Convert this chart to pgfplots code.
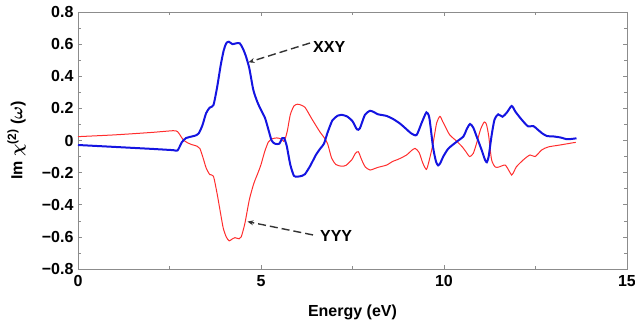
\documentclass[border=0pt]{standalone}
\usepackage{fontspec}
\setmainfont{Liberation Sans}
\usepackage{pgfplots}
\pgfplotsset{compat=1.18}
\usetikzlibrary{arrows.meta}
\definecolor{xblue}{RGB}{20,20,225}
\definecolor{yred}{RGB}{255,45,45}
\definecolor{framegray}{RGB}{140,140,140}
\begin{document}
\begin{tikzpicture}[x=1pt,y=1pt]
\path[use as bounding box] (0,0) rectangle (635,333);
\begin{axis}[
  at={(78pt,64pt)}, anchor=south west,
  width=549pt, height=257pt, scale only axis,
  xmin=0, xmax=15, ymin=-0.8, ymax=0.8,
  xtick={0,5,10,15}, xticklabels={0,5,10,15},
  minor xtick={2.5,7.5,12.5},
  ytick={-0.8,-0.6,-0.4,-0.2,0,0.2,0.4,0.6,0.8},
  yticklabels={−0.8,−0.6,−0.4,−0.2,0,0.2,0.4,0.6,0.8},
  minor ytick={-0.7,-0.5,-0.3,-0.1,0.1,0.3,0.5,0.7},
  tick align=inside,
  major tick length=4pt, minor tick length=3pt,
  axis line style={framegray, line width=0.8pt},
  every tick/.style={framegray, line width=0.6pt},
  tick label style={font=\fontsize{16}{18}\selectfont\bfseries},
  xticklabel style={yshift=-3pt},
  yticklabel style={xshift=-1pt},
  xlabel={Energy (eV)},
  ylabel={Im $\chi^{\textbf{\fontsize{12}{14}\selectfont(2)}}$ ($\omega$)},
  label style={font=\fontsize{16}{18}\selectfont\bfseries\boldmath},
  xlabel style={at={(axis description cs:0.5,-0.17)}, anchor=center},
  ylabel style={at={(axis description cs:-0.112,0.5)}, anchor=center},
  clip=false,
]
\addplot[yred, line width=1pt, smooth, tension=0.4] coordinates {
(0,0.024) (1,0.035) (2,0.05) (2.6,0.061) (2.72,0.055) (2.8,0.03) (2.88,0.003)
(3.0,-0.015) (3.1,-0.025) (3.25,-0.035) (3.33,-0.05) (3.42,-0.11) (3.5,-0.17)
(3.6,-0.212) (3.7,-0.222) (3.8,-0.33) (3.9,-0.46) (3.97,-0.547) (4.05,-0.60)
(4.13,-0.625) (4.2,-0.615) (4.29,-0.605) (4.4,-0.612) (4.46,-0.6) (4.56,-0.516)
(4.68,-0.37) (4.8,-0.27) (4.92,-0.2) (5.0,-0.15) (5.1,-0.07) (5.2,-0.01)
(5.3,0.01) (5.43,0.016) (5.55,0.01) (5.62,-0.005) (5.66,0.01) (5.72,0.06)
(5.8,0.16) (5.9,0.215) (6.0,0.226) (6.1,0.22) (6.2,0.207) (6.3,0.17) (6.38,0.138)
(6.52,0.086) (6.62,0.05) (6.72,0.02) (6.82,-0.02) (6.93,-0.11) (7.05,-0.15)
(7.2,-0.16) (7.32,-0.155) (7.48,-0.12) (7.58,-0.08) (7.66,-0.07) (7.75,-0.12)
(7.85,-0.165) (7.98,-0.184) (8.1,-0.175) (8.2,-0.167) (8.43,-0.153) (8.6,-0.13)
(8.75,-0.117) (8.98,-0.09) (9.1,-0.065) (9.21,-0.049) (9.32,-0.075) (9.42,-0.14)
(9.52,-0.18) (9.6,-0.12) (9.7,-0.02) (9.8,0.11) (9.89,0.15) (9.96,0.12)
(10.05,0.08) (10.16,0.034) (10.35,-0.005) (10.5,-0.04) (10.6,-0.07) (10.7,-0.1)
(10.8,-0.08) (10.9,-0.01) (11.0,0.07) (11.1,0.115) (11.16,0.1) (11.22,0.03)
(11.3,-0.12) (11.4,-0.165) (11.5,-0.165) (11.67,-0.153) (11.78,-0.19) (11.85,-0.215)
(11.92,-0.19) (11.98,-0.163) (12.17,-0.12) (12.35,-0.09) (12.49,-0.1) (12.67,-0.059)
(12.85,-0.04) (13.17,-0.028) (13.53,-0.014) (13.6,-0.012)
};
\addplot[xblue, line width=2pt, smooth, tension=0.4] coordinates {
(0,-0.028) (1,-0.04) (2,-0.052) (2.6,-0.060) (2.72,-0.062) (2.84,-0.01) (2.95,0.015)
(3.05,0.022) (3.2,0.030) (3.3,0.045) (3.4,0.095) (3.5,0.17) (3.6,0.205) (3.7,0.22)
(3.8,0.33) (3.9,0.47) (3.98,0.56) (4.05,0.605) (4.12,0.615) (4.22,0.60) (4.32,0.605)
(4.42,0.605) (4.5,0.575) (4.58,0.53) (4.68,0.45) (4.79,0.315) (4.9,0.24) (5.0,0.19)
(5.11,0.14) (5.2,0.07) (5.29,0.0) (5.38,-0.02) (5.5,-0.02) (5.58,0.015) (5.63,0.015)
(5.7,-0.03) (5.8,-0.15) (5.9,-0.22) (6.0,-0.225) (6.12,-0.22) (6.2,-0.21) (6.34,-0.16)
(6.5,-0.09) (6.62,-0.05) (6.72,-0.02) (6.82,0.05) (6.95,0.125) (7.1,0.155) (7.2,0.16)
(7.35,0.15) (7.5,0.12) (7.62,0.07) (7.7,0.075) (7.84,0.16) (7.98,0.185) (8.1,0.175)
(8.2,0.163) (8.43,0.153) (8.6,0.135) (8.8,0.105) (9.0,0.065) (9.1,0.045) (9.25,0.034)
(9.39,0.11) (9.52,0.175) (9.6,0.14) (9.7,-0.04) (9.78,-0.13) (9.84,-0.155) (9.9,-0.14)
(9.98,-0.1) (10.12,-0.05) (10.35,-0.007) (10.53,0.025) (10.62,0.07) (10.71,0.103)
(10.8,0.08) (10.9,0.02) (11.03,-0.06) (11.12,-0.12) (11.17,-0.135) (11.22,-0.1)
(11.3,0.03) (11.38,0.13) (11.48,0.163) (11.6,0.148) (11.72,0.175) (11.85,0.215)
(11.95,0.18) (12.05,0.15) (12.17,0.117) (12.3,0.088) (12.44,0.09) (12.55,0.07)
(12.68,0.045) (12.81,0.028) (13.0,0.025) (13.2,0.018) (13.35,0.008) (13.5,0.01)
(13.62,0.014)
};
\draw[black!80, line width=1.4pt, dash pattern=on 8pt off 4pt, -{Stealth[length=6pt,width=5pt]}]
  (axis cs:6.34,0.607) -- (axis cs:4.66,0.487);
\draw[black!80, line width=1.4pt, dash pattern=on 8pt off 4pt, -{Stealth[length=6pt,width=5pt]}]
  (axis cs:6.42,-0.588) -- (axis cs:4.63,-0.505);
\node[anchor=west, font=\fontsize{16}{18}\selectfont\bfseries, inner sep=0pt] at (axis cs:6.42,0.584) {XXY};
\node[anchor=west, font=\fontsize{16}{18}\selectfont\bfseries, inner sep=0pt] at (axis cs:6.61,-0.595) {YYY};
\end{axis}
\end{tikzpicture}
\end{document}
